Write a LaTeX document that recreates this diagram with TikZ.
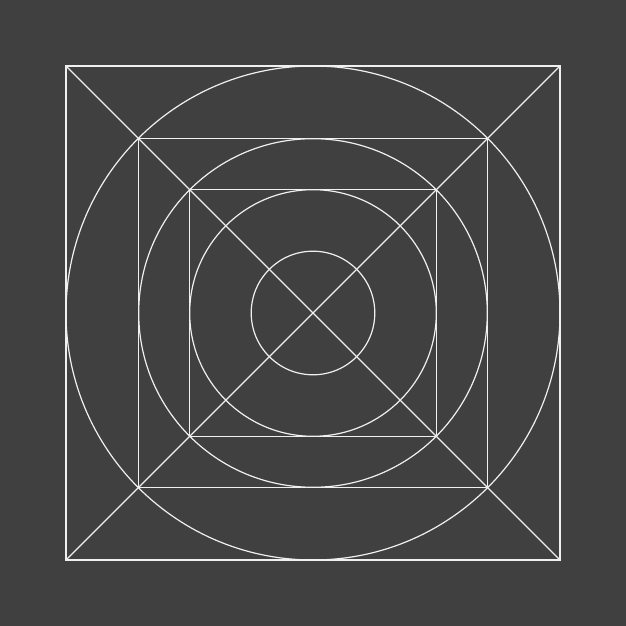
\documentclass[tikz,border=0pt]{standalone}
\begin{document}
\begin{tikzpicture}[x=1pt,y=1pt,
  ln/.style={draw=white!94!black, line width=1.2pt}]
\definecolor{bg}{HTML}{404040}
\fill[bg] (0,0) rectangle (626,626);
\useasboundingbox (0,0) rectangle (626,626);
\coordinate (c) at (313,313);
\def\R{247}
% outer square
\coordinate (A) at (66,66);
\coordinate (B) at (560,66);
\coordinate (C) at (560,560);
\coordinate (D) at (66,560);
\draw[ln] (A) rectangle (C);
\draw[ln] (A) -- (C);
\draw[ln] (B) -- (D);
% circles
\draw[ln] (c) circle (247);
\draw[ln] (c) circle (174.3);
\draw[ln] (c) circle (123.3);
\draw[ln] (c) circle (61.8);
% middle square
\draw[ln] (138.7,138.7) rectangle (487.3,487.3);
% inner square
\draw[ln] (189.7,189.7) rectangle (436.3,436.3);
\end{tikzpicture}
\end{document}
